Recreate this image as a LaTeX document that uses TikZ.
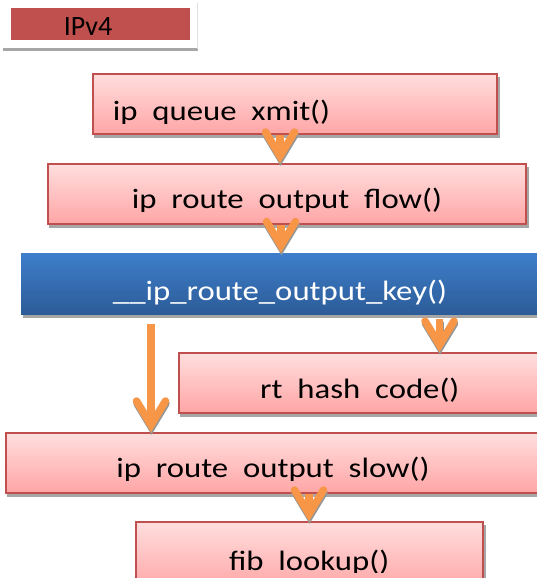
\documentclass[tikz,border=0pt]{standalone}
\usepackage{fontspec}
\setmainfont{Carlito}
\newfontfamily\boxfont[FakeStretch=1.17]{Carlito}
\usetikzlibrary{arrows.meta,backgrounds}

\definecolor{boxred}{RGB}{192,80,77}
\definecolor{pinktop}{RGB}{255,222,222}
\definecolor{pinkbot}{RGB}{255,165,165}
\definecolor{bluetop}{RGB}{62,126,203}
\definecolor{bluebot}{RGB}{44,92,152}
\definecolor{flowor}{RGB}{247,150,70}
\definecolor{shadowgrey}{RGB}{166,166,166}
\definecolor{arrowgrey}{RGB}{150,150,150}

\tikzset{
  pinkbox/.style={draw=boxred, line width=1.5pt, top color=pinktop,
    bottom color=pinkbot, inner sep=0pt, minimum height=60pt},
  bluebox/.style={top color=bluetop, bottom color=bluebot, inner sep=0pt,
    minimum height=61pt},
  boxtext/.style={font=\boxfont\fontsize{28}{32}\selectfont, inner sep=0pt,
    anchor=base},
  flow/.style={draw=flowor, line width=7.5pt,
    -{Straight Barb[length=24pt, width=29pt, line cap=round, line join=miter]}},
  flowshadow/.style={flow, draw=arrowgrey,
    transform canvas={shift={(0.5pt,-2.5pt)}}},
  boxshadow/.style={fill=shadowgrey},
}

\begin{document}
\begin{tikzpicture}[x=1pt, y=-1pt]
\useasboundingbox (0,0) rectangle (537,578);
\clip (0,0) rectangle (537,578);
\begin{pgfonlayer}{background}
  \fill[white] (0,0) rectangle (537,578);
\end{pgfonlayer}

% title tab
\fill[shadowgrey] (3,48.5) rectangle (197.5,51.5);
\draw[gray!25, line width=1pt] (197.5,3) -- (197.5,49);
\node[fill=boxred, minimum width=179pt, minimum height=32pt, inner sep=0pt]
  (ipbox) at (100.5,24.2) {};
\node[font=\fontsize{28}{32}\selectfont, inner sep=0pt, anchor=base]
  (iptext) at (88,36) {IPv4};

% call boxes (the three widest run on past the right margin)
\node[pinkbox, minimum width=404pt] (b1) at (295,104) {};
\node[pinkbox, minimum width=478pt] (b2) at (287,194) {};
\node[bluebox, minimum width=549pt] (key) at (295.5,283.5) {};
\node[pinkbox, minimum width=391pt] (hash) at (374.5,383) {};
\node[pinkbox, minimum width=564pt] (slow) at (288,463) {};
\node[pinkbox, minimum width=347pt, minimum height=68pt] (fib) at (309.5,556) {};

% solid drop shadows behind the boxes
\begin{pgfonlayer}{background}
  \foreach \n in {b1,b2,key,hash,slow,fib}
    \fill[boxshadow] ([shift={(2pt,-3.5pt)}]\n.south west)
      rectangle ([shift={(2pt,-3.5pt)}]\n.north east);
\end{pgfonlayer}

% box labels (descenders cut at the text frame)
\begin{scope}
  \clip (93,74) rectangle (497,123.3);
  \node[boxtext] (t1) at (221.5,120.7) {ip\ \ queue\ \ xmit()};
\end{scope}
\begin{scope}
  \clip (48,164) rectangle (526,211);
  \node[boxtext] (t2) at (287,208.3) {ip\ \ route\ \ output\ \ flow()};
\end{scope}
\node[boxtext, text=white] (t3) at (280,300) {\_\_ip\_route\_output\_key()};
\begin{scope}
  \clip (179,353) rectangle (570,401.5);
  \node[boxtext] (t4) at (359.8,398.7) {rt\ \ hash\ \ code()};
\end{scope}
\begin{scope}
  \clip (6,433) rectangle (570,480.5);
  \node[boxtext] (t5) at (273,477.7) {ip\ \ route\ \ output\ \ slow()};
\end{scope}
\begin{scope}
  \clip (136,522) rectangle (483,572.8);
  \node[boxtext] (t6) at (309.2,570) {fib\ \ lookup()};
\end{scope}

% call-flow arrows
\foreach \s/\t/\x/\d in {b1/b2/280/0, b2/key/281/0, key/hash/439.5/5,
                         key/slow/151/10, slow/fib/309/0} {
  \draw[flowshadow] ([yshift=-\d pt]\x,0 |- \s.south) -- (\x,0 |- \t.north);
  \draw[flow] ([yshift=-\d pt]\x,0 |- \s.south) -- (\x,0 |- \t.north);
}
\end{tikzpicture}
\end{document}
